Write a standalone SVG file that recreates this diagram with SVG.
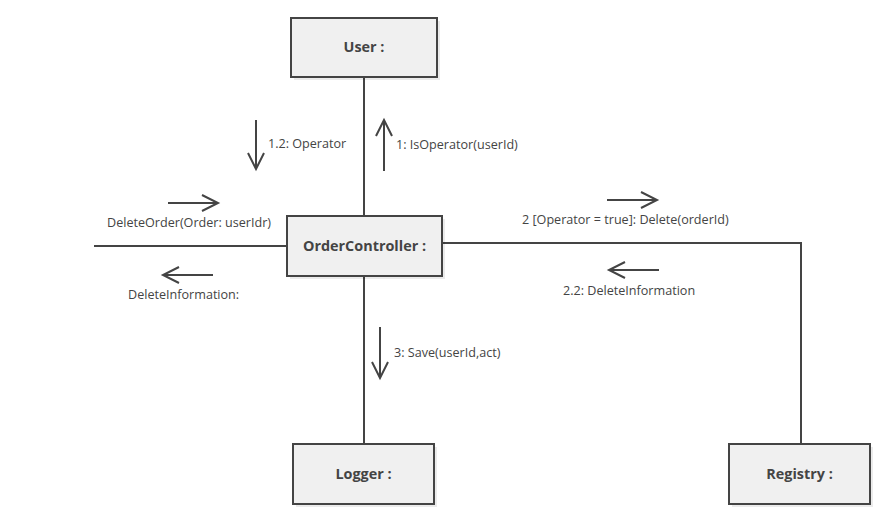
<svg xmlns="http://www.w3.org/2000/svg" width="890" height="524" viewBox="0 0 890 524">
<defs>
<style>
.box{fill:#f0f0f0;stroke:#444;stroke-width:2}
.shadow{fill:#000;opacity:0.08}
.title{font-family:"Open Sans","Noto Sans",sans-serif;font-size:14.4px;font-weight:bold;fill:#444;text-anchor:middle}
.lbl{font-family:"Open Sans","Noto Sans",sans-serif;font-size:12.6px;fill:#444}
.conn{stroke:#444;stroke-width:2;fill:none}
.msg{stroke:#444;stroke-width:2;fill:none;marker-end:url(#arr)}
</style>
<marker id="arr" markerUnits="userSpaceOnUse" markerWidth="20" markerHeight="20" refX="17" refY="9" orient="auto">
<path d="M1,1 L17,9 L1,17" fill="none" stroke="#444" stroke-width="2"/>
</marker>
</defs>
<rect width="890" height="524" fill="#fff"/>
<g id="connectors">
<line class="conn" x1="364" y1="77" x2="364" y2="216"/>
<line class="conn" x1="364" y1="276" x2="364" y2="444"/>
<line class="conn" x1="94" y1="246" x2="287" y2="246"/>
<polyline class="conn" points="442,243 801,243 801,444"/>
<line class="msg" x1="256" y1="120" x2="256" y2="169"/>
<text class="lbl" x="268" y="148">1.2: Operator</text>
<line class="msg" x1="384" y1="171" x2="384" y2="120"/>
<text class="lbl" x="396" y="149">1: IsOperator(userId)</text>
<line class="msg" x1="168" y1="203" x2="218" y2="203"/>
<text class="lbl" x="107" y="227">DeleteOrder(Order: userIdr)</text>
<line class="msg" x1="213" y1="275" x2="163" y2="275"/>
<text class="lbl" x="128" y="299">DeleteInformation:</text>
<line class="msg" x1="607" y1="200" x2="657" y2="200"/>
<text class="lbl" x="522" y="224">2 [Operator = true]: Delete(orderId)</text>
<line class="msg" x1="659" y1="270" x2="609" y2="270"/>
<text class="lbl" x="563" y="295">2.2: DeleteInformation</text>
<line class="msg" x1="380" y1="327" x2="380" y2="378"/>
<text class="lbl" x="394" y="357">3: Save(userId,act)</text>
</g>
<g id="user">
<rect class="shadow" x="294" y="21" width="146" height="59"/>
<rect class="box" x="291" y="18" width="146" height="59"/>
<text class="title" x="364" y="52">User :</text>
</g>
<g id="orderController">
<rect class="shadow" x="290" y="219" width="155" height="60"/>
<rect class="box" x="287" y="216" width="155" height="60"/>
<text class="title" x="364.5" y="251">OrderController :</text>
</g>
<g id="logger">
<rect class="shadow" x="296" y="447" width="141" height="60"/>
<rect class="box" x="293" y="444" width="141" height="60"/>
<text class="title" x="363.5" y="479">Logger :</text>
</g>
<g id="registry">
<rect class="shadow" x="732" y="447" width="141" height="60"/>
<rect class="box" x="729" y="444" width="141" height="60"/>
<text class="title" x="799.5" y="479">Registry :</text>
</g>
</svg>
